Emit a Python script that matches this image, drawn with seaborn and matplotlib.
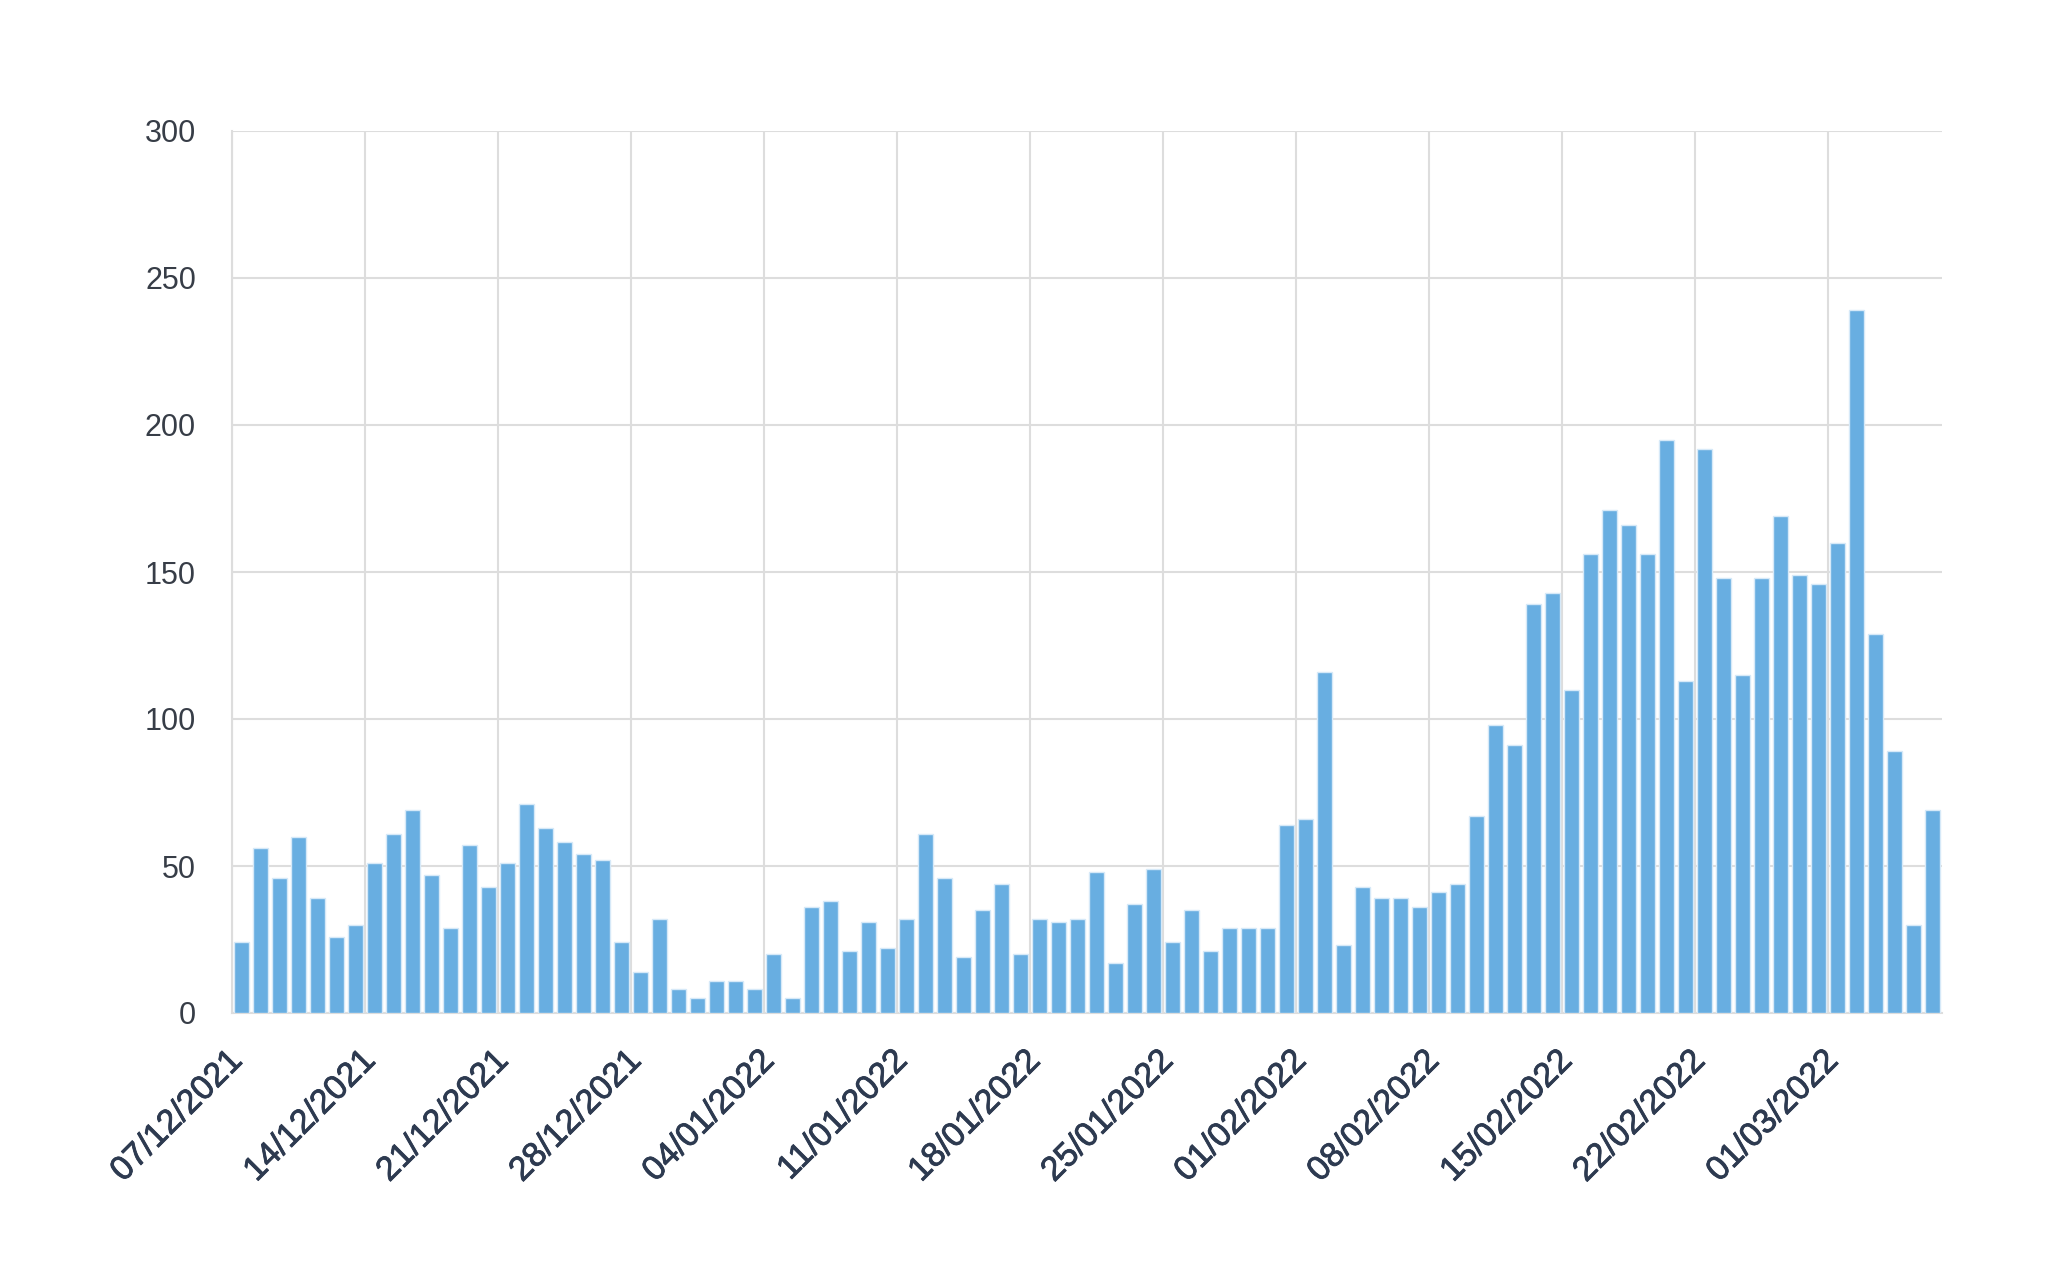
import matplotlib
matplotlib.use('Agg')
import matplotlib.pyplot as plt
import matplotlib.transforms as mtransforms
import matplotlib.patheffects as pe
import seaborn as sns
import pandas as pd

# ---- data ----
start_date = '2021-12-07'
daily_counts = [
    24, 56, 46, 60, 39, 26, 30,
    51, 61, 69, 47, 29, 57, 43,
    51, 71, 63, 58, 54, 52, 24,
    14, 32, 8, 5, 11, 11, 8,
    20, 5, 36, 38, 21, 31, 22,
    32, 61, 46, 19, 35, 44, 20,
    32, 31, 32, 48, 17, 37, 49,
    24, 35, 21, 29, 29, 29, 64,
    66, 116, 23, 43, 39, 39, 36,
    41, 44, 67, 98, 91, 139, 143,
    110, 156, 171, 166, 156, 195, 113,
    192, 148, 115, 148, 169, 149, 146,
    160, 239, 129, 89, 30, 69,
]
y_ticks = [0, 50, 100, 150, 200, 250, 300]
tick_every = 7

dates = pd.date_range(start_date, periods=len(daily_counts))
date_labels = list(dates.strftime('%d/%m/%Y'))
df = pd.DataFrame({'date': date_labels, 'count': daily_counts})

# ---- style ----
sns.set_theme(style='white')
plt.rcParams['font.family'] = ['Liberation Sans', 'DejaVu Sans']

W, H = 2048, 1281
fig = plt.figure(figsize=(W / 100, H / 100), dpi=100)
left, right, top, bottom = 232, 1942, 131, 1013
ax = fig.add_axes([left / W, 1 - bottom / H, (right - left) / W, (bottom - top) / H])

sns.barplot(data=df, x='date', y='count', color='#68aee1', saturation=1,
            width=0.8, edgecolor='#d6e9f8', linewidth=1.0, ax=ax, zorder=3)

n = len(daily_counts)
ax.set_xlim(-0.5, n - 0.5)
ax.set_ylim(y_ticks[0], y_ticks[-1])
ax.set_yticks(y_ticks)
ax.set_yticklabels([str(v) for v in y_ticks])

tick_idx = list(range(0, n, tick_every))
ax.set_xticks([i - 0.5 for i in tick_idx])
ax.set_xticklabels([date_labels[i] for i in tick_idx], rotation=45,
                   ha='right', va='top', rotation_mode='anchor')

ax.set_xlabel('')
ax.set_ylabel('')

grid_color = '#dddddd'
ax.grid(True, axis='both', color=grid_color, linewidth=1.5, zorder=0)
ax.set_axisbelow(True)
for s in ['top', 'right']:
    ax.spines[s].set_visible(False)
for s in ['left', 'bottom']:
    ax.spines[s].set_color(grid_color)
    ax.spines[s].set_linewidth(1.5)

x_label_color = '#2d3a50'
ax.tick_params(axis='x', length=0, pad=23, labelsize=24.5, labelcolor=x_label_color)
ax.tick_params(axis='y', length=0, pad=26, labelsize=22, labelcolor='#373d47')

offset = mtransforms.ScaledTranslation(-0.05, 0, fig.dpi_scale_trans)
for lab in ax.get_xticklabels():
    lab.set_transform(lab.get_transform() + offset)
    lab.set_path_effects([pe.withStroke(linewidth=0.6, foreground=x_label_color)])

fig.savefig('out.png', dpi=100, facecolor='white')
